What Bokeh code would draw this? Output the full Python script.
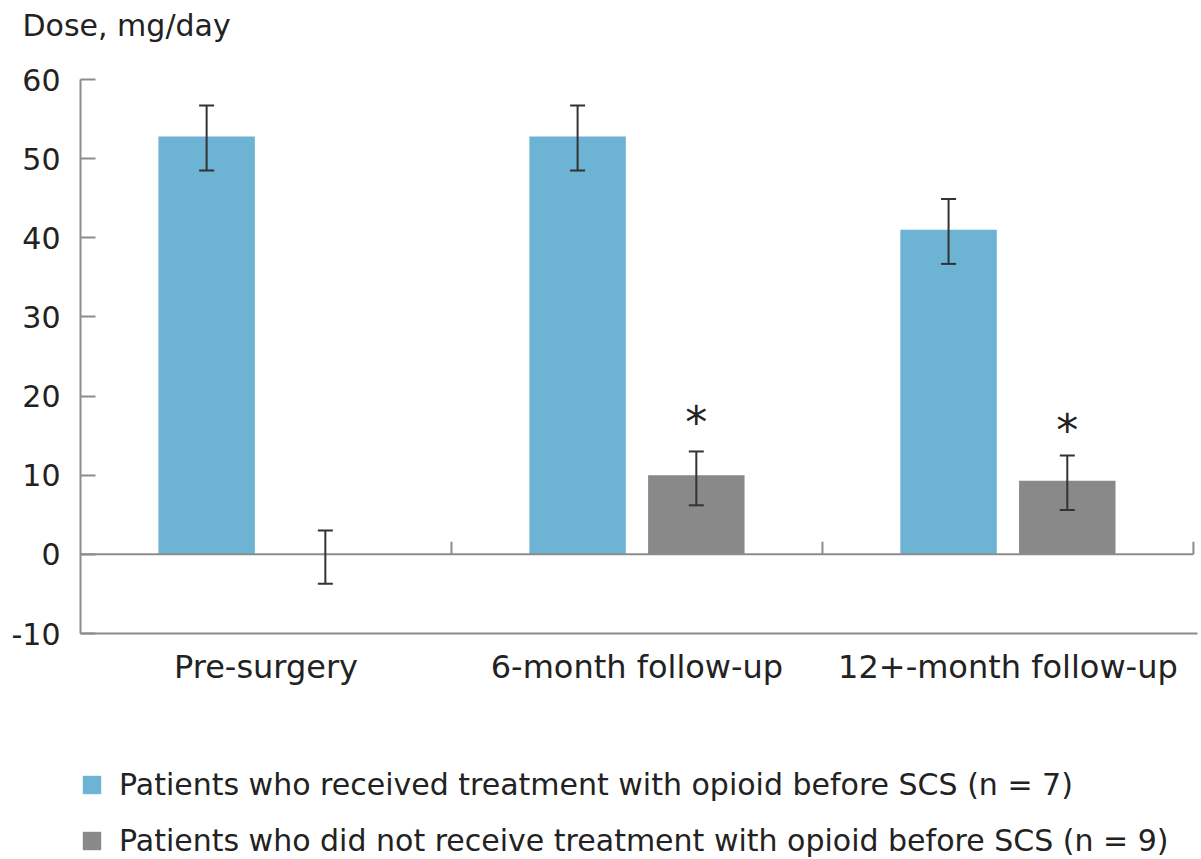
from bokeh.plotting import figure
from bokeh.layouts import column
from bokeh.models import (ColumnDataSource, Whisker, TeeHead, Title, Legend, LegendItem,
                          Range1d, FixedTicker)
from bokeh.core.properties import value
from bokeh.embed import file_html
from bokeh.resources import INLINE

# ---- data ----
categories = ["Pre-surgery", "6-month follow-up", "12+-month follow-up"]
opioid_mean = [52.8, 52.8, 41.0]
opioid_upper = [56.7, 56.7, 44.9]
opioid_lower = [48.5, 48.5, 36.7]
no_opioid_mean = [0.0, 10.0, 9.3]
no_opioid_upper = [3.0, 13.0, 12.5]
no_opioid_lower = [-3.7, 6.2, 5.6]
significance = ["", "*", "*"]
significance_y = [0.0, 16.7, 15.6]
y_ticks = [-10, 0, 10, 20, 30, 40, 50, 60]
series_labels = ["Patients who received treatment with opioid before SCS (n = 7)",
                 "Patients who did not receive treatment with opioid before SCS (n = 9)"]

BLUE = "#6db3d3"
GRAY = "#898989"
AXIS = "#8c8c8c"
ERR = "#333333"
TXT = "#222222"
FONT = "DejaVu Sans"

n = len(categories)
idx = list(range(n))
x_op = [i + 0.34 for i in idx]
x_no = [i + 0.66 for i in idx]

p = figure(width=1200, height=690, output_backend="svg", toolbar_location=None,
           x_range=Range1d(0, 3.011), y_range=Range1d(-10, 60),
           min_border_left=80, min_border_right=3, min_border_top=79, min_border_bottom=57)
p.outline_line_color = None
p.xgrid.visible = False
p.ygrid.visible = False
p.background_fill_color = "white"

src_op = ColumnDataSource(dict(x=x_op, top=opioid_mean, upper=opioid_upper, lower=opioid_lower))
src_no = ColumnDataSource(dict(x=x_no, top=no_opioid_mean, upper=no_opioid_upper, lower=no_opioid_lower))

p.vbar(x="x", top="top", bottom=0, width=0.26, source=src_op, fill_color=BLUE, line_color=None)
p.vbar(x="x", top="top", bottom=0, width=0.26, source=src_no, fill_color=GRAY, line_color=None)

# zero baseline with group separators
p.segment(x0=[0], y0=[0], x1=[n], y1=[0], line_color=AXIS, line_width=2)
sep = [i + 1 for i in idx]
p.segment(x0=sep, y0=[0] * n, x1=sep, y1=[1.6] * n, line_color=AXIS, line_width=2)

for src in (src_op, src_no):
    w = Whisker(source=src, base="x", upper="upper", lower="lower", dimension="height",
                line_color=ERR, line_width=2, level="annotation",
                upper_head=TeeHead(size=15, line_color=ERR, line_width=2),
                lower_head=TeeHead(size=15, line_color=ERR, line_width=2))
    p.add_layout(w)

# significance markers
sig_x = [x_no[i] for i in idx if significance[i]]
sig_y = [significance_y[i] for i in idx if significance[i]]
sig_t = [significance[i] for i in idx if significance[i]]
p.text(x=sig_x, y=sig_y, text=sig_t, text_font=value(FONT), text_font_size="44px",
       text_align="center", text_baseline="middle", text_color=TXT)

# axes
p.yaxis.ticker = FixedTicker(ticks=y_ticks)
p.yaxis.major_label_overrides = {t: str(t) for t in y_ticks}
p.yaxis.axis_line_color = AXIS
p.yaxis.axis_line_width = 2
p.yaxis.major_tick_line_color = AXIS
p.yaxis.major_tick_line_width = 2
p.yaxis.major_tick_in = 15
p.yaxis.major_tick_out = 0
p.yaxis.minor_tick_line_color = None
p.yaxis.major_label_standoff = 20
p.yaxis.major_label_text_font = FONT
p.yaxis.major_label_text_font_size = "30px"
p.yaxis.major_label_text_color = TXT

centers = [i + 0.5 for i in idx]
p.xaxis.ticker = FixedTicker(ticks=centers)
p.xaxis.major_label_overrides = {c: lab for c, lab in zip(centers, categories)}
p.xaxis.axis_line_color = AXIS
p.xaxis.axis_line_width = 2
p.xaxis.major_tick_line_color = None
p.xaxis.minor_tick_line_color = None
p.xaxis.major_tick_in = 0
p.xaxis.major_tick_out = 0
p.xaxis.major_label_standoff = 14
p.xaxis.major_label_text_font = FONT
p.xaxis.major_label_text_font_size = "32px"
p.xaxis.major_label_text_color = TXT

# y-axis title at top-left, with a blank gap between it and the plot area
p.add_layout(Title(text=" ", standoff=0, text_font=FONT, text_font_size="30px"), "above")
p.add_layout(Title(text="Dose, mg/day", align="left", offset=-58, standoff=0,
                   vertical_align="bottom", text_font=FONT, text_font_size="30px",
                   text_font_style="normal", text_color=TXT), "above")

# legend panel below the chart (frame is aligned with the chart's frame by the column)
leg = figure(width=1200, height=168, output_backend="svg", toolbar_location=None,
             x_range=Range1d(0, 1), y_range=Range1d(0, 1),
             x_axis_type=None, y_axis_type=None, min_border=0)
leg.outline_line_color = None
# one zero-height key glyph per series, outside the visible range (legend swatches only)
g_op = leg.vbar(x=[-1], top=[0], bottom=[0], width=0.1, fill_color=BLUE, line_color=None)
g_no = leg.vbar(x=[-1], top=[0], bottom=[0], width=0.1, fill_color=GRAY, line_color=None)
legend = Legend(items=[LegendItem(label=series_labels[0], renderers=[g_op]),
                       LegendItem(label=series_labels[1], renderers=[g_no])],
                location=(0, 0), orientation="vertical",
                glyph_width=23, glyph_height=23, label_height=23, label_standoff=16,
                spacing=21, padding=0, margin=0,
                border_line_color=None, background_fill_alpha=0,
                label_text_font=FONT, label_text_font_size="30px", label_text_color=TXT)
leg.add_layout(legend)

open("out.html", "w").write(file_html(column(p, leg, spacing=0), INLINE))
